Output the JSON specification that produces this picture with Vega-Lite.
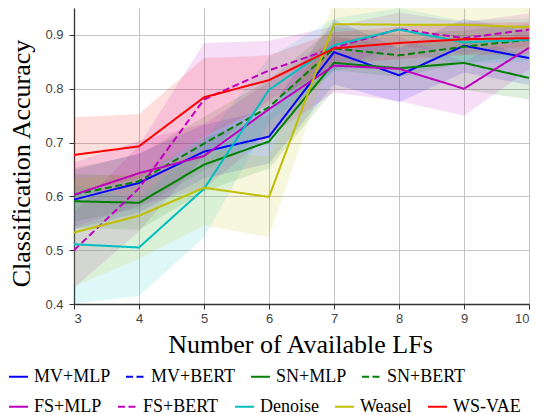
{
  "$schema": "https://vega.github.io/schema/vega-lite/v6.json",
  "width": 455,
  "height": 296,
  "autosize": {"type": "none"},
  "padding": {"left": 74, "top": 8, "right": 23, "bottom": 111},
  "config": {
    "font": "Liberation Serif",
    "view": {"stroke": null},
    "axis": {
      "domainColor": "#333333",
      "domainWidth": 1.3,
      "tickColor": "#333333",
      "tickSize": 5,
      "gridColor": "#c4c4c4",
      "gridWidth": 1,
      "labelFont": "Liberation Sans",
      "labelFontSize": 13,
      "labelColor": "#444444",
      "titleFont": "Liberation Serif",
      "titleFontSize": 26,
      "titleFontWeight": "normal",
      "titleColor": "#000000"
    },
    "legend": {
      "labelFont": "Liberation Serif",
      "labelFontSize": 18,
      "labelFontWeight": "normal",
      "labelColor": "#000000",
      "symbolStrokeWidth": 2,
      "symbolSize": 360,
      "labelOffset": 5,
      "padding": 0
    }
  },
  "data": {
    "values": [
      {"x": 3, "series": "MV+MLP", "acc": 0.594, "lo": 0.539, "hi": 0.649},
      {"x": 4, "series": "MV+MLP", "acc": 0.625, "lo": 0.570, "hi": 0.680},
      {"x": 5, "series": "MV+MLP", "acc": 0.683, "lo": 0.633, "hi": 0.733},
      {"x": 6, "series": "MV+MLP", "acc": 0.711, "lo": 0.661, "hi": 0.761},
      {"x": 7, "series": "MV+MLP", "acc": 0.868, "lo": 0.808, "hi": 0.928},
      {"x": 8, "series": "MV+MLP", "acc": 0.825, "lo": 0.775, "hi": 0.875},
      {"x": 9, "series": "MV+MLP", "acc": 0.880, "lo": 0.830, "hi": 0.930},
      {"x": 10, "series": "MV+MLP", "acc": 0.857, "lo": 0.807, "hi": 0.907},
      {"x": 3, "series": "SN+MLP", "acc": 0.591, "lo": 0.541, "hi": 0.641},
      {"x": 4, "series": "SN+MLP", "acc": 0.588, "lo": 0.538, "hi": 0.638},
      {"x": 5, "series": "SN+MLP", "acc": 0.659, "lo": 0.609, "hi": 0.709},
      {"x": 6, "series": "SN+MLP", "acc": 0.702, "lo": 0.652, "hi": 0.752},
      {"x": 7, "series": "SN+MLP", "acc": 0.848, "lo": 0.798, "hi": 0.898},
      {"x": 8, "series": "SN+MLP", "acc": 0.838, "lo": 0.798, "hi": 0.878},
      {"x": 9, "series": "SN+MLP", "acc": 0.848, "lo": 0.798, "hi": 0.898},
      {"x": 10, "series": "SN+MLP", "acc": 0.820, "lo": 0.780, "hi": 0.860},
      {"x": 3, "series": "SN+BERT", "acc": 0.603, "lo": 0.553, "hi": 0.653},
      {"x": 4, "series": "SN+BERT", "acc": 0.628, "lo": 0.578, "hi": 0.678},
      {"x": 5, "series": "SN+BERT", "acc": 0.698, "lo": 0.648, "hi": 0.748},
      {"x": 6, "series": "SN+BERT", "acc": 0.766, "lo": 0.716, "hi": 0.816},
      {"x": 7, "series": "SN+BERT", "acc": 0.875, "lo": 0.835, "hi": 0.915},
      {"x": 8, "series": "SN+BERT", "acc": 0.862, "lo": 0.822, "hi": 0.902},
      {"x": 9, "series": "SN+BERT", "acc": 0.878, "lo": 0.848, "hi": 0.908},
      {"x": 10, "series": "SN+BERT", "acc": 0.891, "lo": 0.861, "hi": 0.921},
      {"x": 3, "series": "FS+MLP", "acc": 0.603, "lo": 0.543, "hi": 0.663},
      {"x": 4, "series": "FS+MLP", "acc": 0.643, "lo": 0.583, "hi": 0.703},
      {"x": 5, "series": "FS+MLP", "acc": 0.675, "lo": 0.615, "hi": 0.735},
      {"x": 6, "series": "FS+MLP", "acc": 0.762, "lo": 0.712, "hi": 0.812},
      {"x": 7, "series": "FS+MLP", "acc": 0.843, "lo": 0.793, "hi": 0.893},
      {"x": 8, "series": "FS+MLP", "acc": 0.837, "lo": 0.777, "hi": 0.897},
      {"x": 9, "series": "FS+MLP", "acc": 0.800, "lo": 0.750, "hi": 0.850},
      {"x": 10, "series": "FS+MLP", "acc": 0.876, "lo": 0.836, "hi": 0.916},
      {"x": 3, "series": "FS+BERT", "acc": 0.500, "lo": 0.430, "hi": 0.570},
      {"x": 4, "series": "FS+BERT", "acc": 0.615, "lo": 0.535, "hi": 0.695},
      {"x": 5, "series": "FS+BERT", "acc": 0.780, "lo": 0.675, "hi": 0.885},
      {"x": 6, "series": "FS+BERT", "acc": 0.834, "lo": 0.779, "hi": 0.889},
      {"x": 7, "series": "FS+BERT", "acc": 0.876, "lo": 0.836, "hi": 0.916},
      {"x": 8, "series": "FS+BERT", "acc": 0.911, "lo": 0.881, "hi": 0.941},
      {"x": 9, "series": "FS+BERT", "acc": 0.894, "lo": 0.864, "hi": 0.924},
      {"x": 10, "series": "FS+BERT", "acc": 0.910, "lo": 0.880, "hi": 0.940},
      {"x": 3, "series": "Denoise", "acc": 0.511, "lo": 0.401, "hi": 0.621},
      {"x": 4, "series": "Denoise", "acc": 0.505, "lo": 0.415, "hi": 0.595},
      {"x": 5, "series": "Denoise", "acc": 0.614, "lo": 0.524, "hi": 0.704},
      {"x": 6, "series": "Denoise", "acc": 0.798, "lo": 0.738, "hi": 0.858},
      {"x": 7, "series": "Denoise", "acc": 0.881, "lo": 0.831, "hi": 0.931},
      {"x": 8, "series": "Denoise", "acc": 0.910, "lo": 0.870, "hi": 0.950},
      {"x": 9, "series": "Denoise", "acc": 0.886, "lo": 0.846, "hi": 0.926},
      {"x": 10, "series": "Denoise", "acc": 0.891, "lo": 0.851, "hi": 0.931},
      {"x": 3, "series": "Weasel", "acc": 0.533, "lo": 0.433, "hi": 0.633},
      {"x": 4, "series": "Weasel", "acc": 0.564, "lo": 0.484, "hi": 0.644},
      {"x": 5, "series": "Weasel", "acc": 0.616, "lo": 0.546, "hi": 0.686},
      {"x": 6, "series": "Weasel", "acc": 0.599, "lo": 0.524, "hi": 0.674},
      {"x": 7, "series": "Weasel", "acc": 0.920, "lo": 0.880, "hi": 0.960},
      {"x": 8, "series": "Weasel", "acc": 0.919, "lo": 0.879, "hi": 0.959},
      {"x": 9, "series": "Weasel", "acc": 0.919, "lo": 0.879, "hi": 0.959},
      {"x": 10, "series": "Weasel", "acc": 0.914, "lo": 0.874, "hi": 0.954},
      {"x": 3, "series": "WS-VAE", "acc": 0.677, "lo": 0.607, "hi": 0.747},
      {"x": 4, "series": "WS-VAE", "acc": 0.693, "lo": 0.633, "hi": 0.753},
      {"x": 5, "series": "WS-VAE", "acc": 0.784, "lo": 0.711, "hi": 0.857},
      {"x": 6, "series": "WS-VAE", "acc": 0.816, "lo": 0.770, "hi": 0.862},
      {"x": 7, "series": "WS-VAE", "acc": 0.875, "lo": 0.845, "hi": 0.905},
      {"x": 8, "series": "WS-VAE", "acc": 0.885, "lo": 0.855, "hi": 0.915},
      {"x": 9, "series": "WS-VAE", "acc": 0.892, "lo": 0.862, "hi": 0.922},
      {"x": 10, "series": "WS-VAE", "acc": 0.894, "lo": 0.864, "hi": 0.924}
    ]
  },
  "encoding": {
    "x": {
      "field": "x",
      "type": "quantitative",
      "scale": {"domain": [3, 10], "nice": false, "zero": false},
      "axis": {
        "values": [3, 4, 5, 6, 7, 8, 9, 10],
        "format": "d",
        "labelPadding": 3,
        "title": "Number of Available LFs",
        "titleBaseline": "alphabetic",
        "titleX": 226,
        "titleY": 48
      }
    }
  },
  "layer": [
    {
      "mark": {"type": "area", "fillOpacity": 0.13, "clip": true},
      "encoding": {
        "y": {
          "field": "lo",
          "type": "quantitative",
          "scale": {"domain": [0.4, 0.95], "nice": false, "zero": false},
          "axis": {
            "values": [0.4, 0.5, 0.6, 0.7, 0.8, 0.9],
            "format": ".1f",
            "labelPadding": 6,
            "title": "Classification Accuracy",
            "titleBaseline": "alphabetic",
            "titleX": -45,
            "titleY": 155
          }
        },
        "y2": {"field": "hi"},
        "fill": {
          "field": "series",
          "type": "nominal",
          "scale": {
            "domain": ["MV+MLP", "MV+BERT", "SN+MLP", "SN+BERT", "FS+MLP", "FS+BERT", "Denoise", "Weasel", "WS-VAE"],
            "range": ["#0000ff", "#0000ff", "#008000", "#008000", "#bf00bf", "#bf00bf", "#00bfbf", "#bfbf00", "#ff0000"]
          },
          "legend": null
        }
      }
    },
    {
      "transform": [{"filter": {"field": "series", "oneOf": ["MV+MLP", "MV+BERT", "SN+MLP", "SN+BERT"]}}],
      "mark": {"type": "line", "strokeWidth": 2, "clip": true},
      "encoding": {
        "y": {"field": "acc", "type": "quantitative"},
        "color": {
          "field": "series",
          "type": "nominal",
          "scale": {
            "domain": ["MV+MLP", "MV+BERT", "SN+MLP", "SN+BERT"],
            "range": ["#0000ff", "#0000ff", "#008000", "#008000"]
          },
          "legend": {"title": null, "orient": "none", "legendX": -66, "legendY": 358, "direction": "horizontal", "columns": 4, "columnPadding": 11, "labelFont": "Liberation Serif"}
        },
        "strokeDash": {
          "field": "series",
          "type": "nominal",
          "scale": {
            "domain": ["MV+MLP", "MV+BERT", "SN+MLP", "SN+BERT"],
            "range": [[1, 0], [7, 3.5], [1, 0], [7, 3.5]]
          },
          "legend": {"title": null, "orient": "none", "legendX": -66, "legendY": 358, "direction": "horizontal", "columns": 4, "columnPadding": 11, "labelFont": "Liberation Serif"}
        }
      }
    },
    {
      "transform": [{"filter": {"field": "series", "oneOf": ["FS+MLP", "FS+BERT", "Denoise", "Weasel", "WS-VAE"]}}],
      "mark": {"type": "line", "strokeWidth": 2, "clip": true},
      "encoding": {
        "y": {"field": "acc", "type": "quantitative"},
        "stroke": {
          "field": "series",
          "type": "nominal",
          "scale": {
            "domain": ["FS+MLP", "FS+BERT", "Denoise", "Weasel", "WS-VAE"],
            "range": ["#bf00bf", "#bf00bf", "#00bfbf", "#bfbf00", "#ff0000"]
          },
          "legend": {"title": null, "orient": "none", "legendX": -66, "legendY": 388, "direction": "horizontal", "columns": 5, "columnPadding": 12, "labelFont": "Liberation Serif"}
        },
        "strokeDash": {
          "field": "series",
          "type": "nominal",
          "scale": {
            "domain": ["FS+MLP", "FS+BERT", "Denoise", "Weasel", "WS-VAE"],
            "range": [[1, 0], [7, 3.5], [1, 0], [1, 0], [1, 0]]
          },
          "legend": {"title": null, "orient": "none", "legendX": -66, "legendY": 388, "direction": "horizontal", "columns": 5, "columnPadding": 12, "labelFont": "Liberation Serif"}
        }
      }
    }
  ],
  "resolve": {
    "scale": {"color": "independent", "stroke": "independent", "strokeDash": "independent", "fill": "independent"}
  }
}
